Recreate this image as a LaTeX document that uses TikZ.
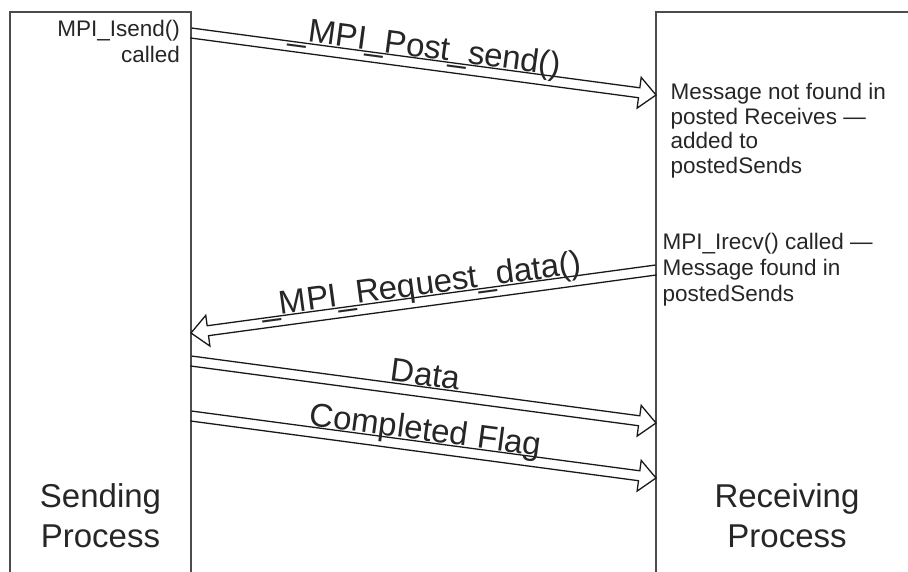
\documentclass[tikz,border=0pt]{standalone}
\usepackage{fontspec}
\setmainfont{Liberation Sans}
\usetikzlibrary{calc, positioning}

% hollow message arrow: from, to, label name, label offset, label text
\newcommand{\msgarrow}[5]{%
  \coordinate (#3head) at ($(#2)!17pt!(#1)$);
  \draw[msgline]
    ($(#1)!5pt!90:(#2)$) -- ($(#3head)!5pt!-90:(#1)$)
    -- ($(#3head)!15.5pt!-90:(#1)$) -- (#2)
    -- ($(#3head)!15.5pt!90:(#1)$) -- ($(#3head)!5pt!90:(#1)$)
    -- ($(#1)!5pt!-90:(#2)$);
  \path ($(#1)!#4!90:(#2)$) -- ($(#2)!#4!-90:(#1)$)
    node[midway, sloped, anchor=base, msglabel] (#3) {#5};
}

\begin{document}
\begin{tikzpicture}[x=1pt, y=-1pt,
    procbox/.style={draw=black!70, line width=1.6pt, minimum height=640pt,
                    inner sep=0pt, outer sep=0pt, anchor=north west},
    proclabel/.style={font=\fontsize{33}{40}\selectfont, text=black!85,
                      inner sep=0pt, align=center},
    note/.style={font=\fontsize{22.5}{26}\selectfont, text=black!85,
                 inner sep=0pt, align=left},
    msgline/.style={draw=black!90, line width=1.3pt, line join=miter},
    msglabel/.style={font=\fontsize{33}{40}\selectfont, text=black!85, inner sep=0pt}]
  \useasboundingbox (0,0) rectangle (908,572);
  \clip (0,0) rectangle (908,572);

  % Process boxes
  \node[procbox, minimum width=181pt] (send) at (10,12) {};
  \node[procbox, minimum width=262pt] (recv) at (656,12) {};

  \node[proclabel, below=471pt of send.north] (sendname) {Sending\\Process};
  \node[proclabel, below=471pt of recv.north] (recvname) {Receiving\\Process};

  % Notes
  \node[note, align=right, below left=8pt and 11pt of send.north east]
    (isendnote) {MPI\_Isend()\\called};
  \node[note, font=\fontsize{22.5}{24.5}\selectfont,
        below right=71pt and 14.5pt of recv.north west]
    (notfoundnote) {Message not found in\\posted Receives —\\added to\\postedSends};
  \node[note, below right=221pt and 6.5pt of recv.north west]
    (foundnote) {MPI\_Irecv() called —\\Message found in\\postedSends};

  % Arrow ends on the box edges
  \coordinate (postA) at ($(send.north east)+(0,21)$);
  \coordinate (postB) at ($(recv.north west)+(0,83)$);
  \coordinate (reqA)  at ($(recv.north west)+(0,258)$);
  \coordinate (reqB)  at ($(send.north east)+(0,321)$);
  \coordinate (dataA) at ($(send.north east)+(0,349)$);
  \coordinate (dataB) at ($(recv.north west)+(0,411)$);
  \coordinate (flagA) at ($(send.north east)+(0,404)$);
  \coordinate (flagB) at ($(recv.north west)+(0,466)$);

  % Messages
  \msgarrow{postA}{postB}{post}{6.5pt}{\_MPI\_Post\_send()}
  \msgarrow{reqA}{reqB}{req}{-6.5pt}{\_MPI\_Request\_data()}
  \msgarrow{dataA}{dataB}{data}{6.5pt}{Data}
  \msgarrow{flagA}{flagB}{flag}{6.5pt}{Completed Flag}
\end{tikzpicture}
\end{document}
